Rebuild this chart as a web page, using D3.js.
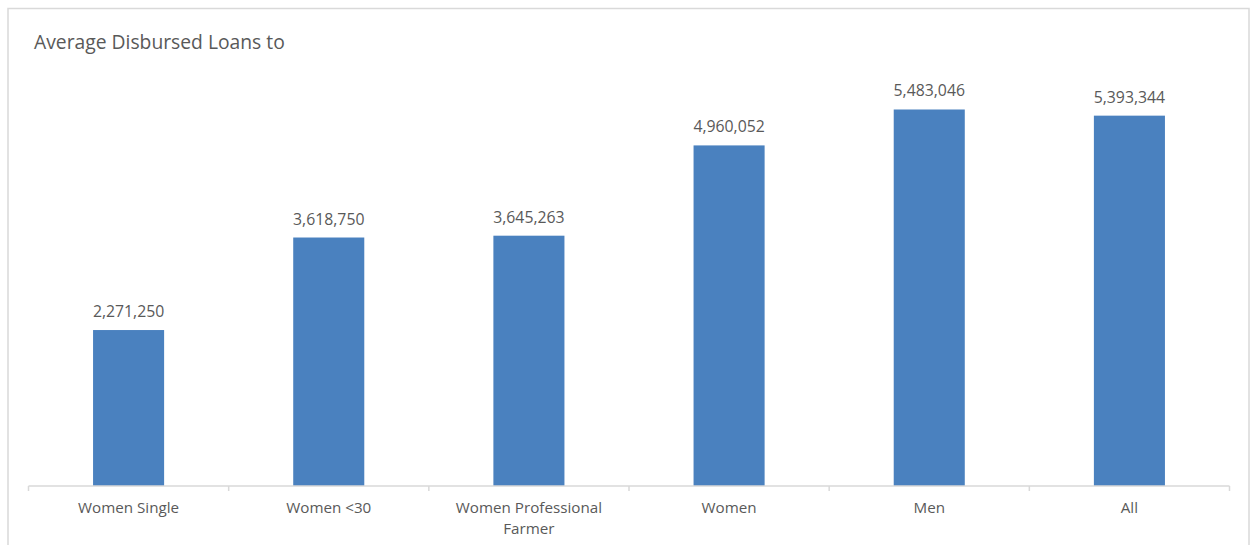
<!DOCTYPE html>
<html><head><meta charset="utf-8">
<script src="https://cdn.jsdelivr.net/npm/d3@7"></script>
<style>body{margin:0;background:#fff;} svg{display:block;}</style>
</head><body>
<svg id="c" width="1250" height="545"></svg>
<script>
const categories = ["Women Single", "Women <30", "Women Professional Farmer", "Women", "Men", "All"];
const values = [2271250, 3618750, 3645263, 4960052, 5483046, 5393344];
const title = "Average Disbursed Loans to";

const svg = d3.select("#c");
const font = "'Open Sans', sans-serif";
const textColor = "#595959";

// chart frame
svg.append("rect").attr("x", 8).attr("y", 8.5).attr("width", 1241).attr("height", 545)
  .attr("fill", "#fff").attr("stroke", "#d9d9d9").attr("stroke-width", 1.5);

svg.append("text").attr("x", 34).attr("y", 49).text(title)
  .attr("font-family", font).attr("font-size", 19.3).attr("fill", textColor);

const x = d3.scaleBand().domain(categories).range([28.5, 1229.5]).paddingInner(0.645).paddingOuter(0.3225);
const y = d3.scaleLinear().domain([0, 6000000]).range([486, 74]);

const band = d3.scaleBand().domain(categories).range([28.5, 1229.5]);

// bars
svg.selectAll("rect.bar").data(values).enter().append("rect").attr("class", "bar")
  .attr("x", (d, i) => x(categories[i]))
  .attr("width", x.bandwidth())
  .attr("y", d => y(d))
  .attr("height", d => y(0) - y(d))
  .attr("fill", "#4a81bf");

// value labels
svg.selectAll("text.val").data(values).enter().append("text").attr("class", "val")
  .attr("x", (d, i) => x(categories[i]) + x.bandwidth() / 2)
  .attr("y", d => y(d) - 13)
  .attr("text-anchor", "middle")
  .attr("font-family", font).attr("font-size", 15.8).attr("fill", textColor)
  .text(d => d3.format(",")(d));

// axis
const axis = d3.axisBottom(band).tickSize(5).tickSizeOuter(5).tickFormat("");
const g = svg.append("g").attr("transform", "translate(0,486)").call(axis);
g.select(".domain").attr("stroke", "#d9d9d9").attr("stroke-width", 1.5);
g.selectAll(".tick").remove();
// category boundary ticks
const bounds = categories.map(c => band(c)).concat([band.range()[1]]);
g.selectAll("line.b").data(bounds).enter().append("line")
  .attr("x1", d => d).attr("x2", d => d).attr("y1", 0).attr("y2", 5)
  .attr("stroke", "#d9d9d9").attr("stroke-width", 1.5);
g.select(".domain").attr("d", `M${band.range()[0]},0H${band.range()[1]}`);

// category labels (wrap)
const wrapMap = {"Women Professional Farmer": ["Women Professional", "Farmer"]};
categories.forEach(c => {
  const lines = wrapMap[c] || [c];
  const t = svg.append("text").attr("text-anchor", "middle")
    .attr("font-family", font).attr("font-size", 15.2).attr("fill", textColor);
  lines.forEach((l, i) => {
    t.append("tspan").attr("x", band(c) + band.bandwidth() / 2).attr("y", 513 + i * 21).text(l);
  });
});
</script>
</body></html>
